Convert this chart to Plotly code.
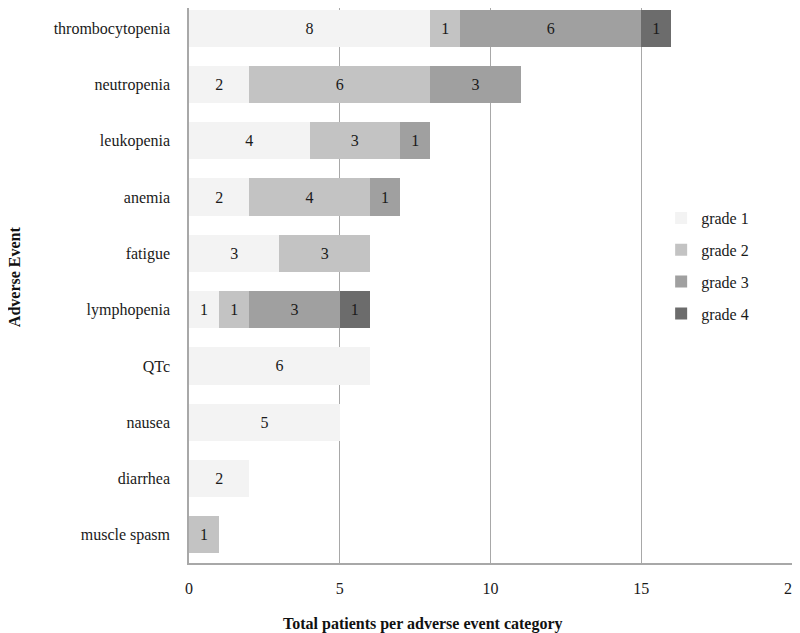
import plotly.graph_objects as go

categories = ["thrombocytopenia", "neutropenia", "leukopenia", "anemia", "fatigue",
              "lymphopenia", "QTc", "nausea", "diarrhea", "muscle spasm"]
grade1 = [8, 2, 4, 2, 3, 1, 6, 5, 2, None]
grade2 = [1, 6, 3, 4, 3, 1, None, None, None, 1]
grade3 = [6, 3, 1, 1, None, 3, None, None, None, None]
grade4 = [1, None, None, None, None, 1, None, None, None, None]
series_names = ["grade 1", "grade 2", "grade 3", "grade 4"]
colors = ["#f3f3f3", "#c3c3c3", "#a0a0a0", "#6c6c6c"]

FONT = "Liberation Serif"
TXT = "#1a1a1a"
PLOT_H = 555
PLOT_W = 603
fig = go.Figure()
for i, (name, vals) in enumerate(zip(series_names, [grade1, grade2, grade3, grade4])):
    fig.add_trace(go.Bar(
        y=categories, x=vals, name=name, orientation="h",
        marker=dict(color=colors[i], line=dict(width=0)),
        text=[("" if v is None else str(v)) for v in vals],
        textposition="inside", insidetextanchor="middle",
        textfont=dict(family=FONT, size=16, color=TXT),
        legendgroup=name, width=0.66,
    ))

fig.update_layout(
    barmode="stack",
    width=792, height=625,
    margin=dict(l=181, r=8, t=0, b=70),
    paper_bgcolor="white", plot_bgcolor="white",
    font=dict(family=FONT, size=16, color=TXT),
    showlegend=True,
    legend=dict(x=0.783, y=0.535, xanchor="left", yanchor="middle",
                traceorder="grouped", tracegroupgap=8, itemwidth=30,
                font=dict(family=FONT, size=16, color=TXT),
                bgcolor="rgba(0,0,0,0)"),
    uniformtext=dict(minsize=16, mode="show"),
    annotations=[
        dict(text="<b>Total patients per adverse event category</b>", xref="paper", yref="paper",
             x=(423 - 189) / PLOT_W, y=-61 / PLOT_H, xanchor="center", yanchor="middle",
             showarrow=False, font=dict(family=FONT, size=16, color="#111111")),
        dict(text="<b>Adverse Event</b>", xref="paper", yref="paper",
             x=-175 / PLOT_W, y=0.515, xanchor="center", yanchor="middle", showarrow=False,
             textangle=-90, font=dict(family=FONT, size=16, color="#111111")),
    ],
)
fig.update_xaxes(range=[0, 20], tickvals=[0, 5, 10, 15, 20], showgrid=True,
                 gridcolor="#a8a8a8", gridwidth=1, zeroline=False, automargin=False,
                 showline=True, linecolor="#a8a8a8", linewidth=1.5,
                 ticks="", ticklabelstandoff=10,
                 tickfont=dict(family=FONT, size=16, color=TXT))
fig.update_yaxes(range=[9.5, -0.5 + 8 / 56.3], categoryorder="array", categoryarray=categories,
                 showline=True, linecolor="#a8a8a8", linewidth=1.5, showgrid=False,
                 ticks="", ticklabelstandoff=14, automargin=False,
                 tickfont=dict(family=FONT, size=16, color=TXT))

fig.write_html("out.html")
